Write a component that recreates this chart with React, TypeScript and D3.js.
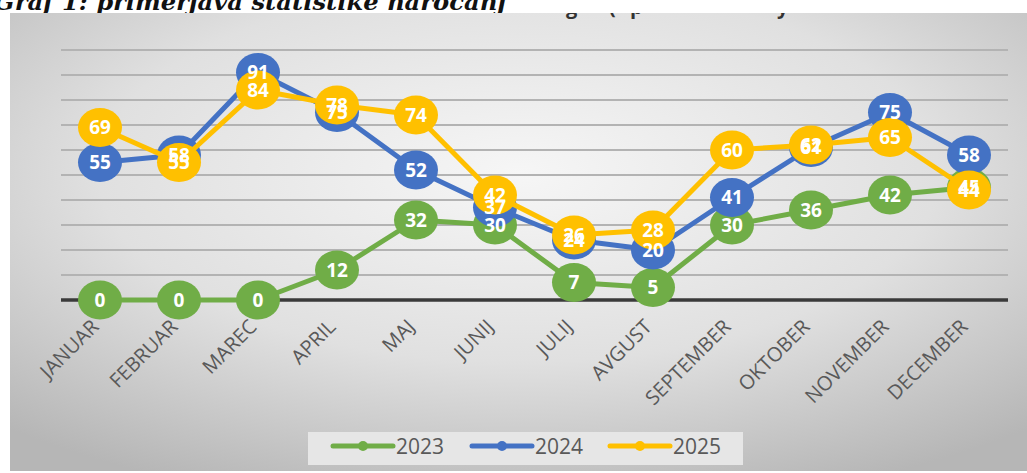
import React from 'react';
import * as d3 from 'd3';

const months = ['JANUAR', 'FEBRUAR', 'MAREC', 'APRIL', 'MAJ', 'JUNIJ', 'JULIJ', 'AVGUST', 'SEPTEMBER', 'OKTOBER', 'NOVEMBER', 'DECEMBER'];
const values2023 = [0, 0, 0, 12, 32, 30, 7, 5, 30, 36, 42, 45];
const values2024 = [55, 58, 91, 75, 52, 37, 24, 20, 41, 61, 75, 58];
const values2025 = [69, 55, 84, 78, 74, 42, 26, 28, 60, 62, 65, 44];
const seriesNames = ['2023', '2024', '2025'];
const seriesColors = ['#70ad47', '#4472c4', '#ffc000'];
const gridTicks = [10, 20, 30, 40, 50, 60, 70, 80, 90, 100];

const W = 1027;
const H = 473;

const App = () => {
  const x = d3.scaleBand().domain(months).range([60.5, 1008.5]);
  const y = d3.scaleLinear().domain([0, 100]).range([300, 50]);
  const cx = (m: string) => (x(m) as number) + x.bandwidth() / 2;

  const series = [values2023, values2024, values2025].map((vals, i) => ({
    name: seriesNames[i],
    color: seriesColors[i],
    points: vals.map((v, j) => ({ m: months[j], v })),
  }));

  const line = d3
    .line<{ m: string; v: number }>()
    .x((d) => cx(d.m))
    .y((d) => y(d.v));

  const legendX = [333, 472, 610];

  return (
    <svg width={W} height={H} style={{ position: 'absolute', left: 0, top: 0, display: 'block' }}>
      <defs>
        <radialGradient id="bg" cx="50%" cy="35%" r="75%">
          <stop offset="0%" stopColor="#f6f6f6" />
          <stop offset="55%" stopColor="#e0e0e0" />
          <stop offset="100%" stopColor="#b6b6b6" />
        </radialGradient>
        <clipPath id="titleClip">
          <rect x={0} y={13} width={W} height={7} />
        </clipPath>
      </defs>
      <rect x={0} y={0} width={W} height={H} fill="#fff" />
      <text
        x={-6}
        y={9.5}
        textLength={512}
        lengthAdjust="spacingAndGlyphs"
        fontFamily="'DejaVu Serif', serif"
        fontStyle="italic"
        fontWeight="bold"
        fontSize={22}
        fill="#111"
      >
        Graf 1: primerjava statistike naročanj
      </text>

      <rect x={10} y={13} width={W - 10} height={458} fill="url(#bg)" />

      {/* descenders of the chart's own title, hidden under the caption */}
      <g clipPath="url(#titleClip)" fontFamily="'Open Sans', sans-serif" fontWeight="bold" fontSize={20} fill="#333">
        <text x={566} y={13.5}>g</text>
        <text x={609} y={13.5}>(</text>
        <text x={630} y={13.5}>p</text>
        <text x={777} y={13.5}>y</text>
      </g>

      {gridTicks.map((t) => (
        <line key={t} x1={61} x2={1008} y1={y(t)} y2={y(t)} stroke="#b3b3b3" strokeWidth={2} />
      ))}
      <line x1={61} x2={1008} y1={y(0)} y2={y(0)} stroke="#3a3a3a" strokeWidth={3.5} />

      {series.map((s) => (
        <g key={s.name}>
          <path d={line(s.points) as string} fill="none" stroke={s.color} strokeWidth={5} strokeLinejoin="round" />
          {s.points.map((p) => (
            <ellipse key={p.m} cx={cx(p.m)} cy={y(p.v)} rx={22} ry={19.5} fill={s.color} />
          ))}
        </g>
      ))}

      {series.map((s) => (
        <g key={s.name + 'l'}>
          {s.points.map((p) => (
            <text
              key={p.m}
              x={cx(p.m)}
              y={y(p.v)}
              dy="0.36em"
              textAnchor="middle"
              fontFamily="'Open Sans', sans-serif"
              fontWeight="bold"
              fontSize={19}
              fill="#fff"
            >
              {p.v}
            </text>
          ))}
        </g>
      ))}

      {months.map((m) => (
        <text
          key={m}
          transform={`translate(${cx(m)},328) rotate(-45)`}
          textAnchor="end"
          fontFamily="'Open Sans', sans-serif"
          fontSize={20}
          fill="#595959"
        >
          {m}
        </text>
      ))}

      <rect x={308} y={432} width={435} height={33} fill="#e6e6e6" />
      {series.map((s, i) => (
        <g key={s.name + 'g'}>
          <line x1={legendX[i]} x2={legendX[i] + 60} y1={446} y2={446} stroke={s.color} strokeWidth={5} strokeLinecap="round" />
          <circle cx={legendX[i] + 30} cy={446} r={5} fill={s.color} />
          <text x={legendX[i] + 63} y={454} fontFamily="'Open Sans', sans-serif" fontSize={21} fill="#595959">
            {s.name}
          </text>
        </g>
      ))}
    </svg>
  );
};

export default App;
